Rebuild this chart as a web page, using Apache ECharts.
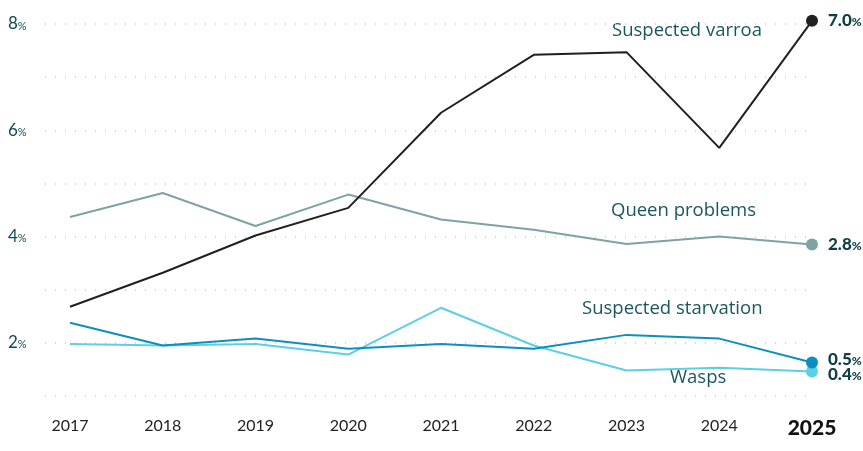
<!DOCTYPE html>
<html>
<head>
<meta charset="utf-8">
<script src="https://cdn.jsdelivr.net/npm/echarts@6/dist/echarts.min.js"></script>
<style>
  html, body { margin: 0; padding: 0; background: #fff; }
  #chart { width: 863px; height: 451px; }
</style>
</head>
<body>
<div id="chart"></div>
<script>
// 年份
var years = ['2017', '2018', '2019', '2020', '2021', '2022', '2023', '2024', '2025'];
// 各系列数值
var varroa = [2.68, 3.32, 4.02, 4.54, 6.33, 7.42, 7.47, 5.67, 8.06];
var queen = [4.37, 4.82, 4.20, 4.79, 4.32, 4.13, 3.86, 4.00, 3.85];
var starvation = [2.38, 1.95, 2.08, 1.89, 1.98, 1.89, 2.15, 2.08, 1.63];
var wasps = [1.98, 1.95, 1.98, 1.78, 2.66, 1.95, 1.48, 1.53, 1.46];
// 末端标签
var endLabels = ['7.0', '2.8', '0.5', '0.4'];
var seriesNames = ['Suspected varroa', 'Queen problems', 'Suspected starvation', 'Wasps'];
var yTicks = [2, 4, 6, 8];

var myChart = echarts.init(document.getElementById('chart'));
var font = 'Lato, "Noto Sans", sans-serif';
var nameFont = '"Open Sans", Lato, sans-serif';
var teal = '#114b54';

/**
 * [生成一条折线]
 */
function makeLine(name, data, color, label, labelOffsetY) {
    var last = data.length - 1;
    return {
        name: name,
        type: 'line',
        xAxisIndex: 0,
        yAxisIndex: 0,
        clip: false,
        data: data.map(function (v, i) {
            if (i !== last) return v;
            return {
                value: v,
                symbol: 'circle',
                symbolSize: 12,
                label: {
                    show: true,
                    position: 'right',
                    distance: 10,
                    offset: [0, labelOffsetY || 0],
                    formatter: '{n|' + label + '}{p|%}',
                    rich: {
                        n: { fontFamily: font, fontSize: 17, fontWeight: 900, color: '#0d3f45' },
                        p: { fontFamily: font, fontSize: 12, fontWeight: 900, color: '#0d3f45', padding: [3, 0, 0, 0] }
                    }
                }
            };
        }),
        symbol: 'none',
        showSymbol: true,
        lineStyle: { color: color, width: 2 },
        itemStyle: { color: color },
        emphasis: { disabled: true },
        z: 3
    };
}

var option = {
    animation: false,
    grid: [
        { left: 70, right: 51, top: 24, bottom: 55 },
        { left: 45, right: 53, top: 24, bottom: 55 }
    ],
    xAxis: [
        {
            type: 'category',
            gridIndex: 0,
            data: years,
            boundaryGap: false,
            axisLine: { show: false },
            axisTick: { show: false },
            axisLabel: {
                margin: 22,
                formatter: function (v) {
                    return v === '2025' ? '{b|' + v + '}' : '{r|' + v + '}';
                },
                rich: {
                    r: { fontFamily: font, fontSize: 16, color: '#222' },
                    b: { fontFamily: font, fontSize: 21, fontWeight: 900, color: '#111' }
                }
            }
        },
        {
            type: 'value',
            gridIndex: 1,
            show: false
        }
    ],
    yAxis: [
        {
            type: 'value',
            gridIndex: 0,
            min: 1,
            max: 8,
            interval: 1,
            show: false,
            splitLine: { show: false }
        },
        {
            type: 'value',
            gridIndex: 1,
            min: 1,
            max: 8,
            interval: 1,
            axisLine: { show: false },
            axisTick: { show: false },
            axisLabel: {
                align: 'left',
                margin: 37,
                formatter: function (v) {
                    return yTicks.indexOf(v) >= 0 ? '{n|' + v + '}{p|%}' : '';
                },
                rich: {
                    n: { fontFamily: font, fontSize: 17, color: teal },
                    p: { fontFamily: font, fontSize: 11, color: teal, padding: [4, 0, 0, 0] }
                }
            },
            splitLine: {
                show: true,
                lineStyle: { type: [1, 9], color: '#b9cfd1', width: 1.5 }
            }
        }
    ],
    series: [
        makeLine(seriesNames[1], queen, '#7fa2a5', endLabels[1], 0),
        makeLine(seriesNames[3], wasps, '#5ccfe6', endLabels[3], 3),
        makeLine(seriesNames[2], starvation, '#0b8fc1', endLabels[2], -3),
        makeLine(seriesNames[0], varroa, '#231f20', endLabels[0], 0)
    ],
    graphic: [
        { type: 'text', left: 612, top: 21, style: { text: seriesNames[0], font: '18.5px ' + nameFont, fill: '#1a5660' } },
        { type: 'text', left: 611, top: 201, style: { text: seriesNames[1], font: '18.5px ' + nameFont, fill: '#1a5660' } },
        { type: 'text', left: 582, top: 299, style: { text: seriesNames[2], font: '18.5px ' + nameFont, fill: '#1a5660' } },
        { type: 'text', left: 670, top: 368, style: { text: seriesNames[3], font: '18.5px ' + nameFont, fill: '#1a5660' } }
    ]
};

myChart.setOption(option);
</script>
</body>
</html>
